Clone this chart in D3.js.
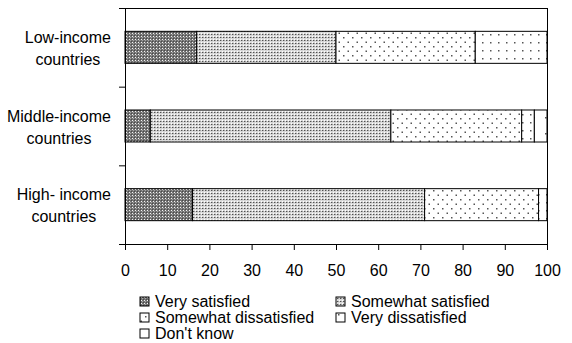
<!DOCTYPE html>
<html>
<head>
<meta charset="utf-8">
<script src="https://cdn.jsdelivr.net/npm/d3@7"></script>
<style>
  html, body { margin: 0; padding: 0; background: #fff; }
  svg { display: block; font-family: "Liberation Sans", Arial, sans-serif; }
</style>
</head>
<body>
<svg id="chart" width="572" height="343"></svg>
<script>
// Satisfaction survey, share of respondents (%) by country income group
const categories = ["Low-income countries", "Middle-income countries", "High- income countries"];
const categoryLines = [["Low-income", "countries"], ["Middle-income", "countries"], ["High- income", "countries"]];
const seriesNames = ["Very satisfied", "Somewhat satisfied", "Somewhat dissatisfied", "Very dissatisfied", "Don't know"];
const verySatisfied = [17, 6, 16];
const somewhatSatisfied = [33, 57, 55];
const somewhatDissatisfied = [33, 31, 27];
const veryDissatisfied = [17, 3, 2];
const dontKnow = [0, 3, 0];
const xTicks = [0, 10, 20, 30, 40, 50, 60, 70, 80, 90, 100];

const seriesValues = [verySatisfied, somewhatSatisfied, somewhatDissatisfied, veryDissatisfied, dontKnow];
const table = categories.map((c, i) => {
  const row = { category: c };
  seriesNames.forEach((s, k) => { row[s] = seriesValues[k][i]; });
  return row;
});
const stacked = d3.stack().keys(seriesNames)(table);

const svg = d3.select("#chart");
const plotLeft = 125, plotRight = 547, plotTop = 8, plotBottom = 244;

const x = d3.scaleLinear().domain([0, 100]).range([plotLeft, plotRight]);
const y = d3.scaleBand().domain(categories).range([plotTop, plotBottom])
  .paddingInner(0.593).paddingOuter(0.2965);

// Fill patterns for each response
const defs = svg.append("defs");
function pattern(id, w, h, bg, draw) {
  const p = defs.append("pattern").attr("id", id).attr("patternUnits", "userSpaceOnUse")
    .attr("width", w).attr("height", h);
  p.append("rect").attr("width", w).attr("height", h).attr("fill", bg);
  draw(p);
}
pattern("p0", 3, 3, "#717171", p => {
  p.append("rect").attr("x", 0).attr("y", 0).attr("width", 1).attr("height", 1).attr("fill", "#f4f4f4");
  p.append("rect").attr("x", 1).attr("y", 1).attr("width", 1).attr("height", 1).attr("fill", "#a5a5a5");
  p.append("rect").attr("x", 2).attr("y", 2).attr("width", 1).attr("height", 1).attr("fill", "#4a4a4a");
});
pattern("p1", 3, 3, "#d8d8d8", p => {
  p.append("rect").attr("x", 1).attr("y", 1).attr("width", 1).attr("height", 1).attr("fill", "#505050");
  p.append("rect").attr("x", 0).attr("y", 0).attr("width", 1).attr("height", 1).attr("fill", "#fff");
  p.append("rect").attr("x", 2).attr("y", 1).attr("width", 1).attr("height", 1).attr("fill", "#a0a0a0");
});
pattern("p2", 9, 9, "#fff", p => {
  p.append("rect").attr("x", 1).attr("y", 1).attr("width", 1.5).attr("height", 1.5).attr("fill", "#555");
  p.append("rect").attr("x", 5.5).attr("y", 5.5).attr("width", 1.5).attr("height", 1.5).attr("fill", "#555");
});
pattern("p3", 8, 8, "#fff", p => {
  p.append("rect").attr("x", 2).attr("y", 2).attr("width", 1.5).attr("height", 1.5).attr("fill", "#555");
});
pattern("p4", 12, 16, "#fff", p => {
  p.append("rect").attr("x", 5).attr("y", 5).attr("width", 1.5).attr("height", 1.5).attr("fill", "#555");
});

// Plot frame
svg.append("rect").attr("x", plotLeft).attr("y", plotTop)
  .attr("width", plotRight - plotLeft).attr("height", plotBottom - plotTop)
  .attr("fill", "none").attr("stroke", "#000").attr("stroke-width", 1).attr("shape-rendering", "crispEdges");

// Stacked bars
svg.append("g").selectAll("g").data(stacked).join("g")
  .attr("fill", (d, i) => `url(#p${i})`)
  .selectAll("rect").data(d => d.filter(s => s[1] - s[0] > 0)).join("rect")
  .attr("x", d => x(d[0]))
  .attr("y", d => y(d.data.category))
  .attr("width", d => x(d[1]) - x(d[0]))
  .attr("height", y.bandwidth())
  .attr("stroke", "#000").attr("stroke-width", 1);

// X axis
const xAxis = svg.append("g").attr("transform", `translate(0,${plotBottom})`)
  .call(d3.axisBottom(x).tickValues(xTicks).tickSizeInner(6).tickSizeOuter(0).tickPadding(15));
xAxis.select(".domain").attr("stroke", "#000");
xAxis.selectAll("text").attr("font-size", 16).attr("fill", "#000").attr("font-family", "Liberation Sans, Arial, sans-serif");

// Y axis: ticks at category boundaries
const yEdge = d3.scaleLinear().domain([0, categories.length]).range([plotTop, plotBottom]);
const yAxis = svg.append("g").attr("transform", `translate(${plotLeft},0)`)
  .call(d3.axisLeft(yEdge).tickValues(d3.range(categories.length + 1)).tickFormat("").tickSizeInner(6).tickSizeOuter(0));
yAxis.select(".domain").attr("stroke", "#000");

// Category labels: centred lines, block right-aligned to the axis
const labelRight = 111;
categoryLines.forEach((lines, i) => {
  const g = svg.append("g");
  const cy = y(categories[i]) + y.bandwidth() / 2;
  const texts = lines.map((t, j) => g.append("text").text(t)
    .attr("font-size", 16).attr("fill", "#000")
    .attr("y", cy + 1 + (j - (lines.length - 1) / 2) * 22)
    .attr("dy", "0.35em").attr("text-anchor", "middle"));
  const maxW = d3.max(texts, t => t.node().getComputedTextLength());
  texts.forEach(t => t.attr("x", labelRight - maxW / 2));
});

// Legend
const legendPos = [[140, 297], [336, 297], [140, 313], [336, 313], [140, 329]];
const legend = svg.append("g");
seriesNames.forEach((s, i) => {
  const [lx, ly] = legendPos[i];
  legend.append("rect").attr("x", lx).attr("y", ly).attr("width", 9).attr("height", 9)
    .attr("fill", `url(#p${i})`).attr("stroke", "#000").attr("stroke-width", 1);
  legend.append("text").attr("x", lx + 15).attr("y", ly + 4.5).attr("dy", "0.35em")
    .attr("font-size", 16).attr("fill", "#000").text(s);
});
</script>
</body>
</html>
